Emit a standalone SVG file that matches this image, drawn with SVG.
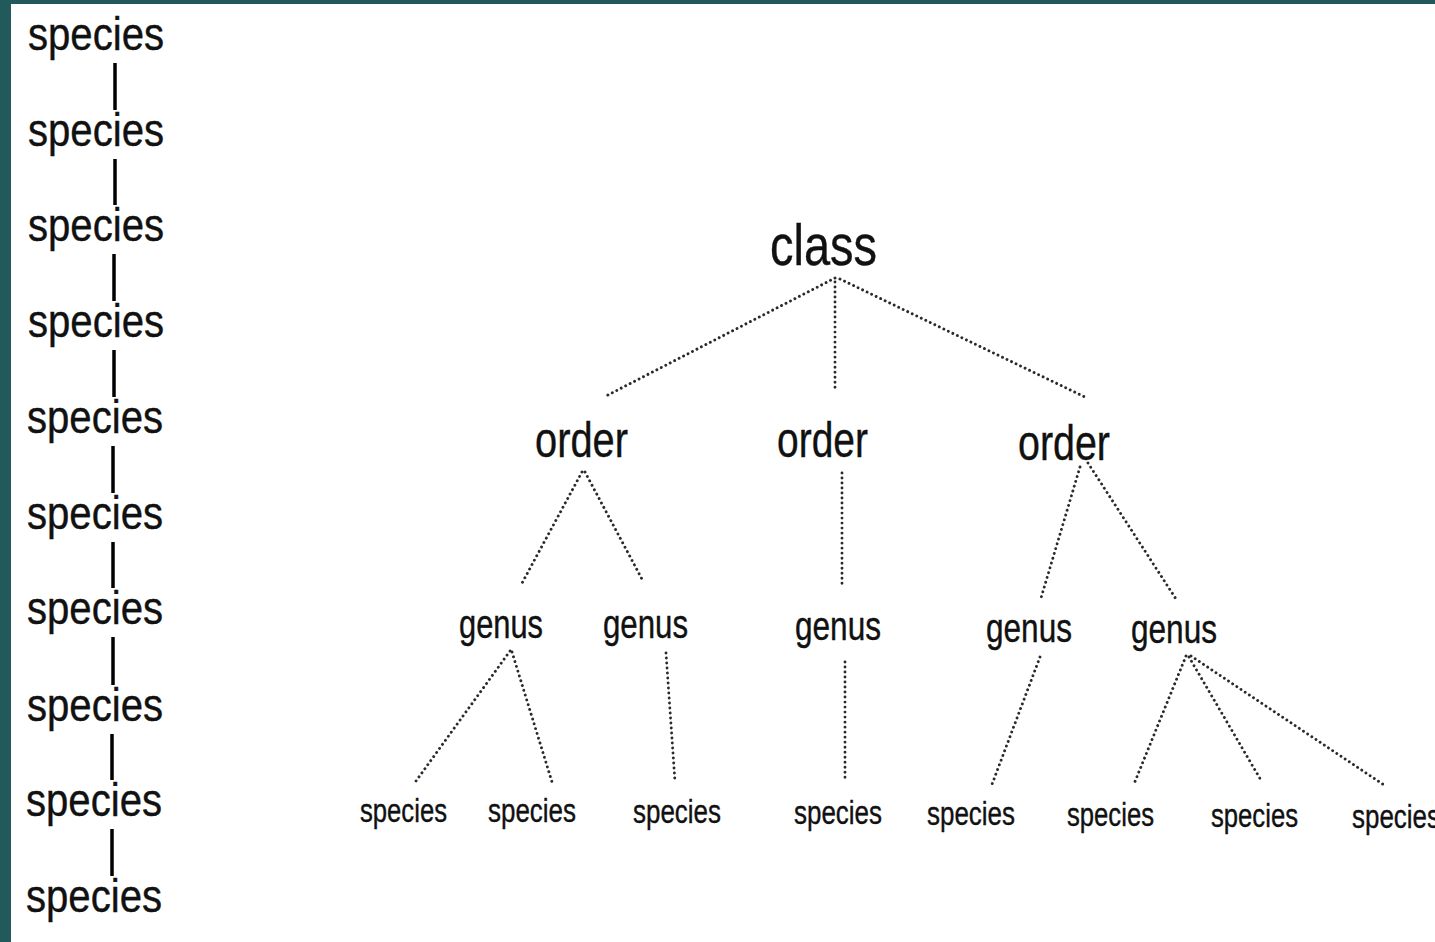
<svg xmlns="http://www.w3.org/2000/svg" width="1435" height="942" viewBox="0 0 1435 942">
<style>
text{font-family:"Liberation Sans",Arial,sans-serif;fill:#111;stroke:#111;stroke-width:0.4;}
.sp{font-size:46px;}
.cl{font-size:58px;}
.or{font-size:50px;}
.ge{font-size:40px;}
.ss{font-size:34px;}
.bar{stroke:#000;stroke-width:3.5;stroke-linecap:butt;}
.dot{stroke:#2a2a2a;stroke-width:2.9;stroke-dasharray:0.01 5;stroke-linecap:round;fill:none;}
</style>
<rect x="0" y="0" width="1435" height="942" fill="#ffffff"/>
<rect x="0" y="0" width="1435" height="4" fill="#225a5c"/>
<rect x="0" y="0" width="11" height="942" fill="#225a5c"/>

<g id="chain">
<g id="c1"><text class="sp" x="28" y="50" textLength="136" lengthAdjust="spacingAndGlyphs">species</text></g>
<g id="c2"><text class="sp" x="28" y="146" textLength="136" lengthAdjust="spacingAndGlyphs">species</text></g>
<g id="c3"><text class="sp" x="28" y="241" textLength="136" lengthAdjust="spacingAndGlyphs">species</text></g>
<g id="c4"><text class="sp" x="28" y="337" textLength="136" lengthAdjust="spacingAndGlyphs">species</text></g>
<g id="c5"><text class="sp" x="27" y="433" textLength="136" lengthAdjust="spacingAndGlyphs">species</text></g>
<g id="c6"><text class="sp" x="27" y="529" textLength="136" lengthAdjust="spacingAndGlyphs">species</text></g>
<g id="c7"><text class="sp" x="27" y="624" textLength="136" lengthAdjust="spacingAndGlyphs">species</text></g>
<g id="c8"><text class="sp" x="27" y="721" textLength="136" lengthAdjust="spacingAndGlyphs">species</text></g>
<g id="c9"><text class="sp" x="26" y="816" textLength="136" lengthAdjust="spacingAndGlyphs">species</text></g>
<g id="c10"><text class="sp" x="26" y="912" textLength="136" lengthAdjust="spacingAndGlyphs">species</text></g>
</g>

<g id="tree-nodes">
<g id="class"><text class="cl" x="770" y="265" textLength="107" lengthAdjust="spacingAndGlyphs">class</text></g>
<g id="order1"><text class="or" x="535" y="457" textLength="93" lengthAdjust="spacingAndGlyphs">order</text></g>
<g id="order2"><text class="or" x="777" y="457" textLength="91" lengthAdjust="spacingAndGlyphs">order</text></g>
<g id="order3"><text class="or" x="1018" y="460" textLength="92" lengthAdjust="spacingAndGlyphs">order</text></g>
<g id="genus1"><text class="ge" x="459" y="638" textLength="84" lengthAdjust="spacingAndGlyphs">genus</text></g>
<g id="genus2"><text class="ge" x="603" y="638" textLength="85" lengthAdjust="spacingAndGlyphs">genus</text></g>
<g id="genus3"><text class="ge" x="795" y="640" textLength="86" lengthAdjust="spacingAndGlyphs">genus</text></g>
<g id="genus4"><text class="ge" x="986" y="642" textLength="86" lengthAdjust="spacingAndGlyphs">genus</text></g>
<g id="genus5"><text class="ge" x="1131" y="643" textLength="86" lengthAdjust="spacingAndGlyphs">genus</text></g>
<g id="sp1"><text class="ss" x="360" y="822" textLength="87" lengthAdjust="spacingAndGlyphs">species</text></g>
<g id="sp2"><text class="ss" x="488" y="822" textLength="88" lengthAdjust="spacingAndGlyphs">species</text></g>
<g id="sp3"><text class="ss" x="633" y="823" textLength="88" lengthAdjust="spacingAndGlyphs">species</text></g>
<g id="sp4"><text class="ss" x="794" y="824" textLength="88" lengthAdjust="spacingAndGlyphs">species</text></g>
<g id="sp5"><text class="ss" x="927" y="825" textLength="88" lengthAdjust="spacingAndGlyphs">species</text></g>
<g id="sp6"><text class="ss" x="1067" y="826" textLength="87" lengthAdjust="spacingAndGlyphs">species</text></g>
<g id="sp7"><text class="ss" x="1211" y="827" textLength="87" lengthAdjust="spacingAndGlyphs">species</text></g>
<g id="sp8"><text class="ss" x="1352" y="828" textLength="88" lengthAdjust="spacingAndGlyphs">species</text></g>
</g>

<g id="connectors">
<g id="chain-bars">
<line class="bar" x1="115" y1="63" x2="115" y2="110"/>
<line class="bar" x1="115" y1="159" x2="115" y2="205"/>
<line class="bar" x1="114" y1="254" x2="114" y2="301"/>
<line class="bar" x1="114" y1="350" x2="114" y2="397"/>
<line class="bar" x1="113" y1="446" x2="113" y2="493"/>
<line class="bar" x1="113" y1="542" x2="113" y2="588"/>
<line class="bar" x1="113" y1="637" x2="113" y2="685"/>
<line class="bar" x1="112" y1="734" x2="112" y2="780"/>
<line class="bar" x1="112" y1="829" x2="112" y2="876"/>
</g>
<g id="tree-lines">
<line class="dot" x1="835" y1="278" x2="604" y2="397"/>
<line class="dot" x1="835" y1="282" x2="835" y2="392"/>
<line class="dot" x1="840" y1="279" x2="1087" y2="398"/>
<line class="dot" x1="582" y1="472" x2="521" y2="585"/>
<line class="dot" x1="585" y1="472" x2="643" y2="581"/>
<line class="dot" x1="842" y1="473" x2="842" y2="587"/>
<line class="dot" x1="1080" y1="467" x2="1041" y2="598"/>
<line class="dot" x1="1088" y1="463" x2="1176" y2="599"/>
<line class="dot" x1="510" y1="651" x2="416" y2="781"/>
<line class="dot" x1="512" y1="652" x2="552" y2="782"/>
<line class="dot" x1="666" y1="653" x2="675" y2="782"/>
<line class="dot" x1="845" y1="662" x2="845" y2="778"/>
<line class="dot" x1="1040" y1="657" x2="991" y2="787"/>
<line class="dot" x1="1186" y1="656" x2="1134" y2="784"/>
<line class="dot" x1="1189" y1="657" x2="1262" y2="782"/>
<line class="dot" x1="1191" y1="656" x2="1384" y2="785"/>
</g>
</g>
</svg>
